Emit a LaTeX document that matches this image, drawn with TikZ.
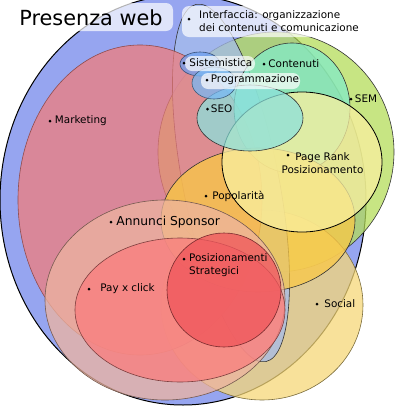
\documentclass[tikz,border=0pt]{standalone}
\usepackage{fontspec}
\setmainfont{DejaVu Sans}
\usetikzlibrary{positioning}

\definecolor{webblue}{RGB}{150,165,240}
\definecolor{ifblue}{RGB}{165,188,235}
\definecolor{mkred}{RGB}{240,125,125}
\definecolor{semgreen}{RGB}{180,220,90}
\definecolor{socyellow}{RGB}{245,215,120}
\definecolor{congreen}{RGB}{130,235,200}
\definecolor{popyellow}{RGB}{250,200,70}
\definecolor{prkyellow}{RGB}{250,240,160}
\definecolor{seocyan}{RGB}{140,225,220}
\definecolor{annpeach}{RGB}{237,180,160}
\definecolor{paypink}{RGB}{250,125,125}
\definecolor{posred}{RGB}{240,85,90}
\definecolor{sisblue}{RGB}{110,160,240}
\definecolor{prgblue}{RGB}{120,185,245}

\begin{document}
\begin{tikzpicture}[x=1pt,y=-1pt,
    area/.style={fill opacity=0.75, line width=0.6pt},
    dot/.style={circle, fill=black, inner sep=0pt, minimum size=3pt},
    lbl/.style={font=\fontsize{10.4}{13}\selectfont, inner sep=0pt},
    lblbox/.style={fill=white, fill opacity=0.7, rounded corners=7pt}]
    \useasboundingbox (0,0) rectangle (400,408);

    % Presenza web
    \draw[fill=webblue, line width=1pt] (183,200) ellipse [x radius=183, y radius=205];

    % Overlapping areas
    \draw[area, fill=semgreen, draw=black!80] (276,152) ellipse [x radius=118, y radius=120];
    \draw[area, fill=socyellow, draw=socyellow!50!black] (262,305) ellipse [x radius=101, y radius=95];
    \draw[area, fill=ifblue, draw=black!80, rotate around={11:(231,183)}] (231,183) ellipse [x radius=48, y radius=182];
    \draw[area, fill=mkred, draw=mkred!60!black] (140,200) ellipse [x radius=122, y radius=155];
    \draw[area, fill=congreen, draw=black!80] (292,108) ellipse [x radius=58, y radius=65];
    \draw[area, fill=popyellow, draw=black!80] (258,220) ellipse [x radius=97, y radius=72];
    \draw[area, fill=prkyellow, draw=black, line width=0.8pt] (302,162) ellipse [x radius=80, y radius=70];
    \draw[area, fill=seocyan, draw=black!80] (250,118) ellipse [x radius=53, y radius=33];
    \draw[area, fill=annpeach, draw=annpeach!50!black] (165,300) ellipse [x radius=120, y radius=100];
    \draw[area, fill=paypink, draw=paypink!50!black] (180,310) ellipse [x radius=105, y radius=72];
    \draw[area, fill=posred, draw=posred!50!black] (224,290) circle [radius=57];
    \draw[area, fill=sisblue, draw=sisblue!50!black] (200,64) ellipse [x radius=20, y radius=12];
    \draw[area, fill=prgblue, draw=prgblue!50!black] (214,83) ellipse [x radius=22, y radius=16];

    % Label boxes
    \fill[lblbox] (12,3) rectangle (173,31);
    \fill[lblbox] (182,6) rectangle (367,37);
    \fill[lblbox] (185,56) rectangle (255,71);
    \fill[lblbox] (201,73) rectangle (300,89);

    % Labels
    \node[font=\fontsize{20.8}{25}\selectfont, inner sep=0pt] (title) at (91,18) {Presenza web};
    \node[dot] (ifdot) at (189,19) {};
    \node[lbl, anchor=west, align=left] (iftxt) at (199,21.5) {Interfaccia: organizzazione\\dei contenuti e comunicazione};
    \node[dot] (sisdot) at (184,63) {};
    \node[lbl, right=3.5pt of sisdot] (sis) {Sistemistica};
    \node[dot] (condot) at (264,64) {};
    \node[lbl, right=2.5pt of condot] (con) {Contenuti};
    \node[dot] (prgdot) at (207,80) {};
    \node[lbl, right=2pt of prgdot] (prg) {Programmazione};
    \node[dot] (semdot) at (351,99) {};
    \node[lbl, right=2pt of semdot] (sem) {SEM};
    \node[dot] (mkdot) at (50,121) {};
    \node[lbl, right=3pt of mkdot] (mk) {Marketing};
    \node[dot] (seodot) at (207.5,109) {};
    \node[lbl, right=1.5pt of seodot] (seo) {SEO};
    \node[dot] (prkdot) at (288,155) {};
    \node[lbl, align=center] (prk) at (322.5,163.5) {Page Rank\\Posizionamento};
    \node[dot] (popdot) at (206,196) {};
    \node[lbl, right=4.5pt of popdot] (pop) {Popolarità};
    \node[dot] (anndot) at (111,222) {};
    \node[lbl, font=\fontsize{12.3}{15}\selectfont, right=3.5pt of anndot] (ann) {Annunci Sponsor};
    \node[dot] (posdot) at (184,259) {};
    \node[lbl, anchor=west, align=left] (pos) at (189,265.5) {Posizionamenti\\Strategici};
    \node[dot] (paydot) at (89,289) {};
    \node[lbl, right=9.5pt of paydot] (pay) {Pay x click};
    \node[dot] (socdot) at (317,304) {};
    \node[lbl, right=5.5pt of socdot] (soc) {Social};
\end{tikzpicture}
\end{document}
